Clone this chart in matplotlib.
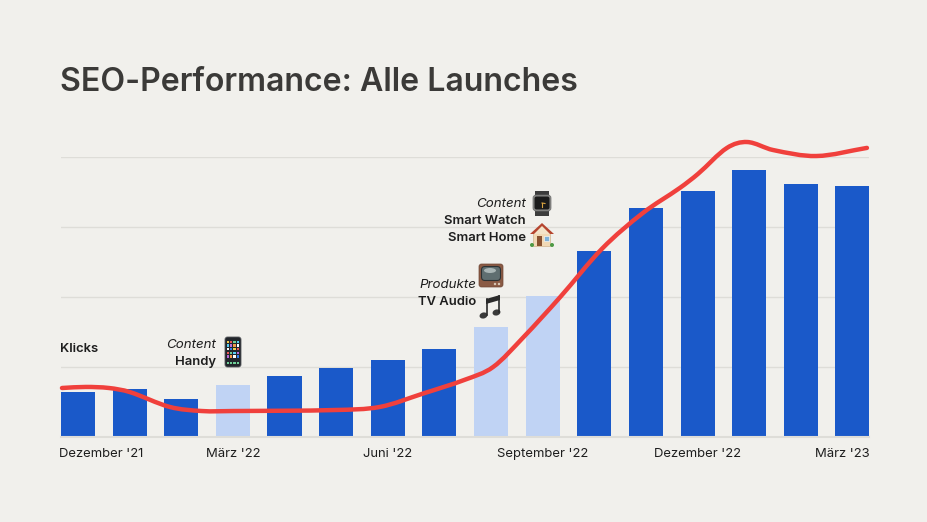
import matplotlib
matplotlib.use("Agg")
import matplotlib.pyplot as plt
from matplotlib.patches import FancyBboxPatch, PathPatch, Polygon, Rectangle, Circle, Ellipse
from matplotlib.path import Path

plt.rcParams["font.family"] = ["Inter", "DejaVu Sans"]

# monthly klicks, unit = one gridline step
months = list(range(16))
klicks = [0.64, 0.68, 0.54, 0.74, 0.87, 0.99, 1.10, 1.26, 1.57, 2.01, 2.66, 3.27, 3.51, 3.81, 3.61, 3.59]
launch_months = [3, 8, 9]

tick_pos = [0.45, 3, 6, 9, 12, 14.8]
tick_labels = ["Dezember '21", "März '22", "Juni '22", "September '22", "Dezember '22", "März '23"]

# red line, only the knots of the curve
line_pos = [-0.31, 0.15, 0.6, 1.0, 1.78, 2.4, 3, 5, 5.85, 6.68, 7.5, 8.04, 8.62, 9.34, 10.15, 10.94, 11.66, 12.01,
            12.57, 12.96, 13.46, 14.3, 15.28]
line_vals = [0.70, 0.715, 0.70, 0.643, 0.429, 0.371, 0.371, 0.386, 0.43, 0.62, 0.82, 1.0, 1.42, 2.0, 2.69, 3.2,
             3.56, 3.76, 4.13, 4.214, 4.1, 4.014, 4.13]

BG = "#F1F0EC"
BLUE = "#1A59C9"
LIGHT = "#C0D3F4"
RED = "#F0403C"
GRID = "#DEDDD8"
DARK = "#3B3A38"
INK = "#1E1E1E"

W, H = 928, 522
fig = plt.figure(figsize=(W / 100, H / 100), dpi=100, facecolor=BG)

# main axes, x 61..869 px and y 437..157 px
ax = fig.add_axes([61 / W, 1 - 437 / H, 808 / W, 280 / H], facecolor="none")
ax.set_xlim(-0.329, 15.32)
ax.set_ylim(0, 4)
ax.set_axisbelow(True)

colors = [LIGHT if m in launch_months else BLUE for m in months]
ax.bar(months, klicks, width=0.66, color=colors, zorder=2)

# smooth bezier through the knots, tangents from the neighbouring knots
n = len(line_pos)
slopes = []
for i in range(n):
    a = max(i - 1, 0)
    b = min(i + 1, n - 1)
    slopes.append((line_vals[b] - line_vals[a]) / (line_pos[b] - line_pos[a]))
verts = [(line_pos[0], line_vals[0])]
codes = [Path.MOVETO]
for i in range(n - 1):
    h = line_pos[i + 1] - line_pos[i]
    verts.append((line_pos[i] + h / 3, line_vals[i] + slopes[i] * h / 3))
    verts.append((line_pos[i + 1] - h / 3, line_vals[i + 1] - slopes[i + 1] * h / 3))
    verts.append((line_pos[i + 1], line_vals[i + 1]))
    codes += [Path.CURVE4] * 3
ax.add_patch(PathPatch(Path(verts, codes), fc="none", ec=RED, lw=3.2, capstyle="round", joinstyle="round",
                       zorder=3, clip_on=False))

ax.set_yticks([1, 2, 3, 4])
ax.set_yticklabels([])
ax.grid(axis="y", color=GRID, lw=1.0)
ax.tick_params(length=0)
for s in ["top", "left", "right"]:
    ax.spines[s].set_visible(False)
ax.spines["bottom"].set_color(GRID)
ax.spines["bottom"].set_linewidth(1.5)
ax.set_xticks(tick_pos)
ax.set_xticklabels(tick_labels, fontsize=9.4, color=INK)
ax.tick_params(axis="x", pad=8)

# overlay in pixels for the labels and little icons
ov = fig.add_axes([0, 0, 1, 1], facecolor="none")
ov.set_xlim(0, W)
ov.set_ylim(H, 0)
ov.axis("off")

ov.text(60, 82.5, "SEO-Performance: Alle Launches", fontsize=23.1, fontweight="semibold", color=DARK, va="center")
ov.text(60, 349, "Klicks", fontsize=9.4, fontweight="semibold", color=INK, va="center")


def label(x, y, text, italic=False):
    ov.text(x, y, text, fontsize=9.6 if italic else 9.4, ha="right", va="center", color=INK,
            fontstyle="italic" if italic else "normal",
            fontweight="normal" if italic else "semibold")


label(216, 345, "Content", True)
label(216, 362, "Handy")
label(476, 285, "Produkte", True)
label(476, 302, "TV Audio")
label(526, 204, "Content", True)
label(526, 221, "Smart Watch")
label(526, 238, "Smart Home")


def phone(cx, cy):
    ov.add_patch(FancyBboxPatch((cx - 8, cy - 15), 16, 30, boxstyle="round,pad=0,rounding_size=2.5",
                                fc="#22262B", ec="#55585C", lw=0.6))
    dots = ["#F2C94C", "#EB5757", "#6FCF97", "#56CCF2", "#BB6BD9", "#F2994A", "#FFFFFF", "#2F80ED"]
    for row in range(5):
        for col in range(4):
            ov.add_patch(Rectangle((cx - 6.3 + col * 3.3, cy - 11.5 + row * 3.7), 2.4, 2.4, lw=0,
                                   fc=dots[(row * 3 + col) % len(dots)]))
    for col in range(4):
        ov.add_patch(Rectangle((cx - 6.3 + col * 3.3, cy + 10), 2.4, 2.4, lw=0, fc="#6FCF97"))


def watch(cx, cy):
    ov.add_patch(Rectangle((cx - 7, cy - 12.5), 14, 25, fc="#3C3C3C", lw=0))
    ov.add_patch(FancyBboxPatch((cx - 9, cy - 8), 18, 16, boxstyle="round,pad=0,rounding_size=3",
                                fc="#8A8A88", ec="#6B6B6B", lw=0.5))
    ov.add_patch(FancyBboxPatch((cx - 7.5, cy - 6.5), 15, 13, boxstyle="round,pad=0,rounding_size=2",
                                fc="#1B1B1B", lw=0))
    ov.plot([cx, cx + 3], [cy, cy + 0.5], color="#D9A441", lw=0.8)
    ov.plot([cx, cx], [cy, cy + 4], color="#D9A441", lw=0.8)


def house(cx, cy):
    ov.add_patch(Rectangle((cx - 8.5, cy - 3), 17, 14, fc="#F1D9B5", ec="#C9A77F", lw=0.4))
    ov.add_patch(Polygon([(cx - 12, cy - 1), (cx, cy - 12), (cx + 12, cy - 1)], fc="#B5452F", lw=0))
    ov.add_patch(Polygon([(cx - 8, cy - 1), (cx, cy - 9), (cx + 8, cy - 1)], fc="#F3E3C8", lw=0))
    ov.add_patch(Rectangle((cx - 4.5, cy + 1), 5, 10, fc="#8A5230", lw=0))
    ov.add_patch(Rectangle((cx + 2, cy + 1), 5, 4.5, fc="#7FB2D8", ec="#FFFFFF", lw=0.4))
    ov.add_patch(Circle((cx - 10, cy + 10), 2, fc="#4E9A45", lw=0))
    ov.add_patch(Circle((cx + 10, cy + 10), 2, fc="#4E9A45", lw=0))


def tv(cx, cy):
    ov.add_patch(FancyBboxPatch((cx - 12, cy - 11), 24, 23, boxstyle="round,pad=0,rounding_size=2.5",
                                fc="#8A5A44", ec="#6E4534", lw=0.5))
    ov.add_patch(FancyBboxPatch((cx - 9.5, cy - 8.5), 19, 14, boxstyle="round,pad=0,rounding_size=3.5",
                                fc="#5F6E70", ec="#2C3234", lw=0.8))
    ov.add_patch(Ellipse((cx - 1, cy - 4.5), 12, 5, fc="#A9B5B5", lw=0))
    ov.add_patch(Circle((cx + 8, cy + 9), 1.2, fc="#D8C9B8", lw=0))
    ov.add_patch(Circle((cx + 4, cy + 9), 1.2, fc="#D8C9B8", lw=0))


def note(cx, cy):
    ov.add_patch(Polygon([(cx - 5, cy - 7), (cx + 9, cy - 11), (cx + 9, cy - 6), (cx - 5, cy - 2)], fc="#2A2A2A", lw=0))
    ov.plot([cx - 4.3, cx - 4.3], [cy - 7, cy + 9], color="#2A2A2A", lw=1.2)
    ov.plot([cx + 8.3, cx + 8.3], [cy - 10, cy + 6], color="#2A2A2A", lw=1.2)
    ov.add_patch(Ellipse((cx - 7.5, cy + 9.5), 8, 6, angle=-15, fc="#3A3A3A", lw=0))
    ov.add_patch(Ellipse((cx + 5.5, cy + 6.5), 8, 6, angle=-15, fc="#3A3A3A", lw=0))


phone(233, 352)
tv(491, 275)
note(491, 306)
watch(542, 203)
house(542, 235)

fig.savefig("out.png", dpi=100, facecolor=BG)
